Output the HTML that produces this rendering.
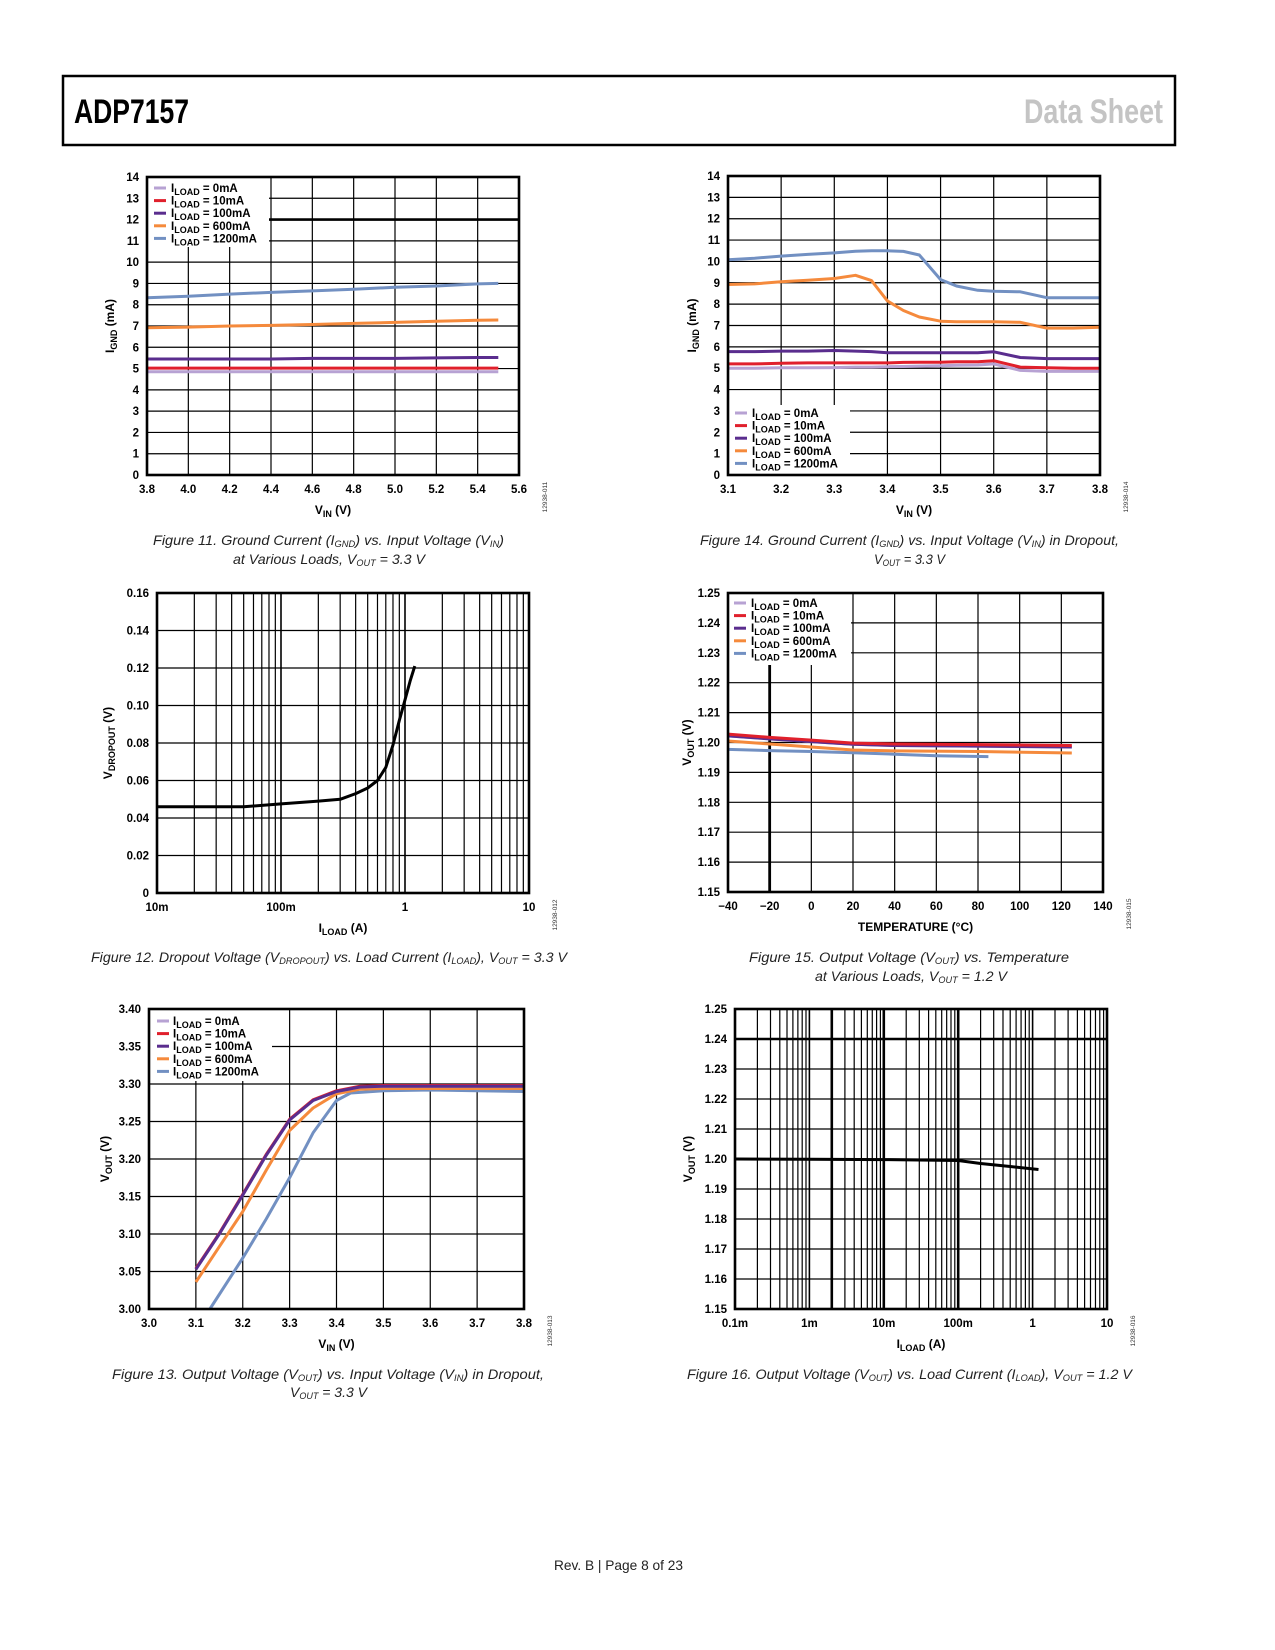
<!DOCTYPE html>
<html><head><meta charset="utf-8"><style>
html,body{margin:0;padding:0;background:#fff;}
svg{display:block;font-family:"Liberation Sans",sans-serif;}
.cap{font-style:italic;font-size:14px;fill:#222;}
</style></head><body>
<svg id="page" xmlns="http://www.w3.org/2000/svg" width="1275" height="1650" viewBox="0 0 1275 1650">
<rect x="63" y="76" width="1112" height="69" fill="none" stroke="#000" stroke-width="2.5"/>
<text x="74" y="123" font-size="34" font-weight="bold" textLength="115" lengthAdjust="spacingAndGlyphs">ADP7157</text>
<text x="1024" y="123" font-size="34" font-weight="bold" fill="#c4c4c4" textLength="139" lengthAdjust="spacingAndGlyphs">Data Sheet</text>

<text class="cap" x="153" y="545" textLength="351" lengthAdjust="spacingAndGlyphs">Figure 11. Ground Current (I<tspan font-size="9" dy="2">GND</tspan><tspan dy="-2">) vs. Input Voltage (V</tspan><tspan font-size="9" dy="2">IN</tspan><tspan dy="-2">)</tspan></text>
<text class="cap" x="233" y="564" textLength="192" lengthAdjust="spacingAndGlyphs">at Various Loads, V<tspan font-size="9" dy="2">OUT</tspan><tspan dy="-2"> = 3.3 V</tspan></text>
<text class="cap" x="700" y="545" textLength="419" lengthAdjust="spacingAndGlyphs">Figure 14. Ground Current (I<tspan font-size="9" dy="2">GND</tspan><tspan dy="-2">) vs. Input Voltage (V</tspan><tspan font-size="9" dy="2">IN</tspan><tspan dy="-2">) in Dropout,</tspan></text>
<text class="cap" x="874" y="564" textLength="71" lengthAdjust="spacingAndGlyphs">V<tspan font-size="9" dy="2">OUT</tspan><tspan dy="-2"> = 3.3 V</tspan></text>
<text class="cap" x="91" y="962" textLength="476" lengthAdjust="spacingAndGlyphs">Figure 12. Dropout Voltage (V<tspan font-size="9" dy="2">DROPOUT</tspan><tspan dy="-2">) vs. Load Current (I</tspan><tspan font-size="9" dy="2">LOAD</tspan><tspan dy="-2">), V</tspan><tspan font-size="9" dy="2">OUT</tspan><tspan dy="-2"> = 3.3 V</tspan></text>
<text class="cap" x="749" y="962" textLength="320" lengthAdjust="spacingAndGlyphs">Figure 15. Output Voltage (V<tspan font-size="9" dy="2">OUT</tspan><tspan dy="-2">) vs. Temperature</tspan></text>
<text class="cap" x="815" y="981" textLength="192" lengthAdjust="spacingAndGlyphs">at Various Loads, V<tspan font-size="9" dy="2">OUT</tspan><tspan dy="-2"> = 1.2 V</tspan></text>
<text class="cap" x="112" y="1379" textLength="432" lengthAdjust="spacingAndGlyphs">Figure 13. Output Voltage (V<tspan font-size="9" dy="2">OUT</tspan><tspan dy="-2">) vs. Input Voltage (V</tspan><tspan font-size="9" dy="2">IN</tspan><tspan dy="-2">) in Dropout,</tspan></text>
<text class="cap" x="290" y="1397" textLength="77" lengthAdjust="spacingAndGlyphs">V<tspan font-size="9" dy="2">OUT</tspan><tspan dy="-2"> = 3.3 V</tspan></text>
<text class="cap" x="687" y="1379" textLength="445" lengthAdjust="spacingAndGlyphs">Figure 16. Output Voltage (V<tspan font-size="9" dy="2">OUT</tspan><tspan dy="-2">) vs. Load Current (I</tspan><tspan font-size="9" dy="2">LOAD</tspan><tspan dy="-2">), V</tspan><tspan font-size="9" dy="2">OUT</tspan><tspan dy="-2"> = 1.2 V</tspan></text>
<text x="554" y="1570" font-size="14" fill="#222" textLength="129" lengthAdjust="spacingAndGlyphs">Rev. B | Page 8 of 23</text>
</svg>
<script>
// ---------- Fig 11 data ----------
const fig11Vin=[3.8,4.0,4.2,4.4,4.6,4.8,5.0,5.2,5.4,5.5];
const fig11_0mA=[4.85,4.85,4.85,4.85,4.85,4.85,4.85,4.85,4.85,4.85];
const fig11_10mA=[5.02,5.02,5.02,5.02,5.02,5.02,5.02,5.02,5.02,5.02];
const fig11_100mA=[5.45,5.45,5.45,5.45,5.48,5.48,5.48,5.5,5.52,5.52];
const fig11_600mA=[6.92,6.95,7.0,7.03,7.07,7.12,7.17,7.22,7.27,7.28];
const fig11_1200mA=[8.33,8.4,8.5,8.58,8.65,8.73,8.82,8.88,8.98,9.0];
const fig11XTicks=[3.8,4.0,4.2,4.4,4.6,4.8,5.0,5.2,5.4,5.6];
const fig11XLabels=["3.8","4.0","4.2","4.4","4.6","4.8","5.0","5.2","5.4","5.6"];
const fig11YTicks=[0,1,2,3,4,5,6,7,8,9,10,11,12,13,14];
const fig11YLabels=["0","1","2","3","4","5","6","7","8","9","10","11","12","13","14"];
// ---------- Fig 14 data ----------
const fig14Vin=[3.1,3.15,3.2,3.25,3.3,3.34,3.37,3.4,3.43,3.46,3.5,3.53,3.57,3.6,3.65,3.7,3.75,3.8];
const fig14_0mA=[5.0,5.0,5.02,5.02,5.03,5.05,5.05,5.07,5.08,5.1,5.12,5.14,5.15,5.2,4.9,4.85,4.85,4.85];
const fig14_10mA=[5.2,5.2,5.23,5.25,5.25,5.25,5.25,5.25,5.27,5.28,5.28,5.3,5.3,5.35,5.05,5.02,5.0,5.0];
const fig14_100mA=[5.78,5.78,5.8,5.8,5.83,5.8,5.78,5.72,5.72,5.72,5.72,5.72,5.72,5.77,5.5,5.45,5.45,5.45];
const fig14_600mA=[8.92,8.95,9.05,9.12,9.2,9.35,9.1,8.15,7.7,7.4,7.2,7.18,7.18,7.18,7.15,6.88,6.88,6.92];
const fig14_1200mA=[10.08,10.15,10.25,10.33,10.4,10.48,10.5,10.5,10.47,10.3,9.15,8.85,8.65,8.6,8.58,8.3,8.3,8.3];
const fig14XTicks=[3.1,3.2,3.3,3.4,3.5,3.6,3.7,3.8];
const fig14XLabels=["3.1","3.2","3.3","3.4","3.5","3.6","3.7","3.8"];
// ---------- Fig 12 data ----------
const fig12Iload=[0.01,0.02,0.05,0.1,0.2,0.3,0.4,0.5,0.6,0.7,0.8,0.9,1.0,1.1,1.2];
const fig12Vdrop=[0.046,0.046,0.046,0.0475,0.049,0.050,0.053,0.056,0.060,0.067,0.079,0.092,0.103,0.113,0.121];
const fig12XTicks=[0.01,0.1,1,10];
const fig12XLabels=["10m","100m","1","10"];
const fig12YTicks=[0,0.02,0.04,0.06,0.08,0.10,0.12,0.14,0.16];
const fig12YLabels=["0","0.02","0.04","0.06","0.08","0.10","0.12","0.14","0.16"];
// ---------- Fig 15 data ----------
const fig15Temp=[-40,-20,0,20,40,80,125];
const fig15_0mA=[1.2022,1.2012,1.2003,1.1994,1.199,1.1988,1.1985];
const fig15_10mA=[1.2028,1.2017,1.2008,1.1998,1.1995,1.1993,1.199];
const fig15_100mA=[1.2022,1.2012,1.2003,1.1994,1.199,1.1988,1.1985];
const fig15_600mA=[1.2005,1.1995,1.1985,1.1975,1.1972,1.197,1.1965];
const fig15Temp1200=[-40,-20,0,20,40,60,85];
const fig15_1200mA=[1.1977,1.1973,1.197,1.1966,1.1961,1.1956,1.1953];
const fig15XTicks=[-40,-20,0,20,40,60,80,100,120,140];
const fig15XLabels=["\u221240","\u221220","0","20","40","60","80","100","120","140"];
const vout12YTicks=[1.15,1.16,1.17,1.18,1.19,1.20,1.21,1.22,1.23,1.24,1.25];
const vout12YLabels=["1.15","1.16","1.17","1.18","1.19","1.20","1.21","1.22","1.23","1.24","1.25"];
// ---------- Fig 13 data ----------
const fig13Vin=[3.1,3.15,3.2,3.25,3.3,3.35,3.4,3.45,3.5,3.6,3.7,3.8];
const fig13_0mA=[3.053,3.100,3.152,3.205,3.252,3.278,3.290,3.296,3.297,3.297,3.297,3.297];
const fig13_10mA=[3.054,3.101,3.153,3.206,3.253,3.279,3.291,3.297,3.298,3.298,3.298,3.298];
const fig13_100mA=[3.053,3.100,3.152,3.205,3.252,3.278,3.290,3.296,3.297,3.297,3.297,3.297];
const fig13_600mA=[3.036,3.083,3.130,3.185,3.238,3.268,3.287,3.293,3.294,3.294,3.294,3.294];
const fig13Vin1200=[3.13,3.2,3.25,3.3,3.35,3.4,3.43,3.5,3.6,3.7,3.8];
const fig13_1200mA=[3.0,3.068,3.120,3.175,3.235,3.278,3.288,3.291,3.292,3.291,3.290];
const fig13XTicks=[3.0,3.1,3.2,3.3,3.4,3.5,3.6,3.7,3.8];
const fig13XLabels=["3.0","3.1","3.2","3.3","3.4","3.5","3.6","3.7","3.8"];
const fig13YTicks=[3.00,3.05,3.10,3.15,3.20,3.25,3.30,3.35,3.40];
const fig13YLabels=["3.00","3.05","3.10","3.15","3.20","3.25","3.30","3.35","3.40"];
// ---------- Fig 16 data ----------
const fig16Iload=[0.0001,0.001,0.01,0.1,0.2,0.5,1.2];
const fig16Vout=[1.2,1.1999,1.1998,1.1995,1.1985,1.1975,1.1965];
const fig16XTicks=[0.0001,0.001,0.01,0.1,1,10];
const fig16XLabels=["0.1m","1m","10m","100m","1","10"];

const C0="#b7a2d3",C10="#e0202c",C100="#5a2d8e",C600="#f58a3c",C1200="#7290c2";
const NS="http://www.w3.org/2000/svg";
const page=document.getElementById("page");
function mk(tag,attrs,parent){const e=document.createElementNS(NS,tag);for(const k in attrs)e.setAttribute(k,attrs[k]);parent.appendChild(e);return e;}

function chart(c){
  const g=mk("g",{},page);
  
  
  const lg=v=>Math.log10(v);
  const sx=v=>c.xlog? c.x0+(lg(v)-lg(c.xmin))/(lg(c.xmax)-lg(c.xmin))*(c.x1-c.x0) : c.x0+(v-c.xmin)/(c.xmax-c.xmin)*(c.x1-c.x0);
  const sy=v=>c.y1-(v-c.ymin)/(c.ymax-c.ymin)*(c.y1-c.y0);
  const gg=mk("g",{stroke:"#000","stroke-width":1.2},g);
  
  
  c.yticks.forEach(v=>{const l=mk("line",{x1:c.x0,x2:c.x1,y1:sy(v),y2:sy(v)},gg);
    if(c.thickY&&c.thickY.includes(v))l.setAttribute("stroke-width",2.6);
    
    });
  if(c.xlog){
    for(let d=lg(c.xmin);d<lg(c.xmax);d++){for(let m=1;m<10;m++){const v=m*Math.pow(10,d);
      const l=mk("line",{x1:sx(v),x2:sx(v),y1:c.y0,y2:c.y1},gg);
      if(m==1)l.setAttribute("stroke-width",1.6);
      if(c.thickXv&&c.thickXv.some(t=>Math.abs(t-v)/v<1e-6))l.setAttribute("stroke-width",2.6);
      
      }}
  } else {
    c.xticks.forEach(v=>{const l=mk("line",{x1:sx(v),x2:sx(v),y1:c.y0,y2:c.y1},gg);
      if(c.thickXv&&c.thickXv.includes(v))l.setAttribute("stroke-width",2.8);
      
      });
  }
  c.series.forEach(s=>{
    const pts=s.xs.map((x,i)=>sx(x).toFixed(1)+","+sy(s.ys[i]).toFixed(1)).join(" ");
    const p=mk("polyline",{points:pts,fill:"none",stroke:s.color,"stroke-width":s.w||3,"stroke-linejoin":"round","stroke-linecap":"butt"},g);
    
    
  });
  if(c.legend){
    const L=c.legend;
    const lb=mk("g",{},g);
    
    
    mk("rect",{x:L.x,y:L.y,width:L.w,height:L.h,fill:"#fff"},lb);
    c.series.slice().sort((a,b)=>a.order-b.order).forEach((s,i)=>{
      const y=L.ry+i*12.6;
      const sw=mk("line",{x1:L.lx,x2:L.lx+12,y1:y,y2:y,stroke:s.color,"stroke-width":3},lb);
      
      
      const t=mk("text",{x:L.tx,y:y+4,"font-size":11.5,"font-weight":"bold"},lb);
      
      
      t.innerHTML='I<tspan font-size="9" dy="3">LOAD</tspan><tspan dy="-3"> = '+s.label+'</tspan>';
    });
  }
  const fr=mk("rect",{x:c.x0,y:c.y0,width:c.x1-c.x0,height:c.y1-c.y0,fill:"none",stroke:"#000","stroke-width":2.6},g);
  
  
  c.xticks.forEach((v,i)=>{const t=mk("text",{x:sx(v),y:c.y1+18,"font-size":11.5,"font-weight":"bold","text-anchor":"middle"},g);
    t.textContent=c.xlabels[i];
    
    });
  c.yticks.forEach((v,i)=>{const t=mk("text",{x:c.x0-8,y:sy(v)+4,"font-size":11.5,"font-weight":"bold","text-anchor":"end"},g);
    t.textContent=c.ylabels[i];
    
    });
  const xt=mk("text",{x:(c.x0+c.x1)/2,y:c.y1+39,"font-size":12,"font-weight":"bold","text-anchor":"middle"},g);
  xt.innerHTML=c.xtitle;
  
  
  const yc=(c.y0+c.y1)/2;
  const yt=mk("text",{x:c.ytx,y:yc,"font-size":12,"font-weight":"bold","text-anchor":"middle",transform:"rotate(-90 "+c.ytx+" "+yc+")"},g);
  yt.innerHTML=c.ytitle;
  
  
  const cx=c.x1+28, cy=c.y1+22;
  const code=mk("text",{x:cx,y:cy,"font-size":6.5,fill:"#333","text-anchor":"middle",transform:"rotate(-90 "+cx+" "+cy+")"},g);
  code.textContent=c.code;
  
  
}
const sub=(a,b,c)=>a+'<tspan font-size="9" dy="3">'+b+'</tspan><tspan dy="-3">'+c+'</tspan>';

chart({name:"fig11-chart",x0:147,x1:519,y0:177,y1:475,xmin:3.8,xmax:5.6,ymin:0,ymax:14,
  xticks:fig11XTicks,xlabels:fig11XLabels,yticks:fig11YTicks,ylabels:fig11YLabels,thickY:[12],
  xtitle:sub("V","IN"," (V)"),ytitle:sub("I","GND"," (mA)"),ytx:114,code:"12938-011",
  legend:{x:148,y:178,w:121,h:69,lx:154,tx:171,ry:188},
  series:[{name:"series-0ma",label:"0mA",order:0,color:C0,xs:fig11Vin,ys:fig11_0mA},
    {name:"series-10ma",label:"10mA",order:1,color:C10,xs:fig11Vin,ys:fig11_10mA},
    {name:"series-100ma",label:"100mA",order:2,color:C100,xs:fig11Vin,ys:fig11_100mA},
    {name:"series-600ma",label:"600mA",order:3,color:C600,xs:fig11Vin,ys:fig11_600mA},
    {name:"series-1200ma",label:"1200mA",order:4,color:C1200,xs:fig11Vin,ys:fig11_1200mA}]});

chart({name:"fig14-chart",x0:728,x1:1100,y0:176,y1:475,xmin:3.1,xmax:3.8,ymin:0,ymax:14,
  xticks:fig14XTicks,xlabels:fig14XLabels,yticks:fig11YTicks,ylabels:fig11YLabels,
  xtitle:sub("V","IN"," (V)"),ytitle:sub("I","GND"," (mA)"),ytx:696,code:"12938-014",
  legend:{x:729,y:405,w:121,h:69,lx:735,tx:752,ry:413},
  series:[{name:"series-0ma",label:"0mA",order:0,color:C0,xs:fig14Vin,ys:fig14_0mA},
    {name:"series-10ma",label:"10mA",order:1,color:C10,xs:fig14Vin,ys:fig14_10mA},
    {name:"series-100ma",label:"100mA",order:2,color:C100,xs:fig14Vin,ys:fig14_100mA},
    {name:"series-600ma",label:"600mA",order:3,color:C600,xs:fig14Vin,ys:fig14_600mA},
    {name:"series-1200ma",label:"1200mA",order:4,color:C1200,xs:fig14Vin,ys:fig14_1200mA}]});

chart({name:"fig12-chart",x0:157,x1:529,y0:593,y1:893,xlog:true,xmin:0.01,xmax:10,ymin:0,ymax:0.16,
  xticks:fig12XTicks,xlabels:fig12XLabels,yticks:fig12YTicks,ylabels:fig12YLabels,
  xtitle:sub("I","LOAD"," (A)"),ytitle:sub("V","DROPOUT"," (V)"),ytx:112,code:"12938-012",
  series:[{name:"dropout-curve",color:"#000",w:3,xs:fig12Iload,ys:fig12Vdrop}]});

chart({name:"fig15-chart",x0:728,x1:1103,y0:593,y1:892,xmin:-40,xmax:140,ymin:1.15,ymax:1.25,
  xticks:fig15XTicks,xlabels:fig15XLabels,yticks:vout12YTicks,ylabels:vout12YLabels,thickXv:[-20],
  xtitle:"TEMPERATURE (°C)",ytitle:sub("V","OUT"," (V)"),ytx:691,code:"12938-015",
  legend:{x:729,y:594,w:122,h:71,lx:734,tx:751,ry:603},
  series:[{name:"series-0ma",label:"0mA",order:0,color:C0,xs:fig15Temp,ys:fig15_0mA},
    {name:"series-1200ma",label:"1200mA",order:4,color:C1200,xs:fig15Temp1200,ys:fig15_1200mA},
    {name:"series-600ma",label:"600mA",order:3,color:C600,xs:fig15Temp,ys:fig15_600mA},
    {name:"series-100ma",label:"100mA",order:2,color:C100,xs:fig15Temp,ys:fig15_100mA},
    {name:"series-10ma",label:"10mA",order:1,color:C10,xs:fig15Temp,ys:fig15_10mA}]});

chart({name:"fig13-chart",x0:149,x1:524,y0:1009,y1:1309,xmin:3.0,xmax:3.8,ymin:3.0,ymax:3.4,
  xticks:fig13XTicks,xlabels:fig13XLabels,yticks:fig13YTicks,ylabels:fig13YLabels,
  xtitle:sub("V","IN"," (V)"),ytitle:sub("V","OUT"," (V)"),ytx:109,code:"12938-013",
  legend:{x:150,y:1010,w:122,h:71,lx:157,tx:173,ry:1021},
  series:[{name:"series-1200ma",label:"1200mA",order:4,color:C1200,xs:fig13Vin1200,ys:fig13_1200mA},
    {name:"series-600ma",label:"600mA",order:3,color:C600,xs:fig13Vin,ys:fig13_600mA},
    {name:"series-0ma",label:"0mA",order:0,color:C0,xs:fig13Vin,ys:fig13_0mA},
    {name:"series-10ma",label:"10mA",order:1,color:C10,xs:fig13Vin,ys:fig13_10mA},
    {name:"series-100ma",label:"100mA",order:2,color:C100,xs:fig13Vin,ys:fig13_100mA}]});

chart({name:"fig16-chart",x0:735,x1:1107,y0:1009,y1:1309,xlog:true,xmin:0.0001,xmax:10,ymin:1.15,ymax:1.25,
  xticks:fig16XTicks,xlabels:fig16XLabels,yticks:vout12YTicks,ylabels:vout12YLabels,thickY:[1.24],thickXv:[0.002,0.01,0.1],
  xtitle:sub("I","LOAD"," (A)"),ytitle:sub("V","OUT"," (V)"),ytx:692,code:"12938-016",
  series:[{name:"vout-curve",color:"#000",w:3,xs:fig16Iload,ys:fig16Vout}]});
</script>
</body></html>
